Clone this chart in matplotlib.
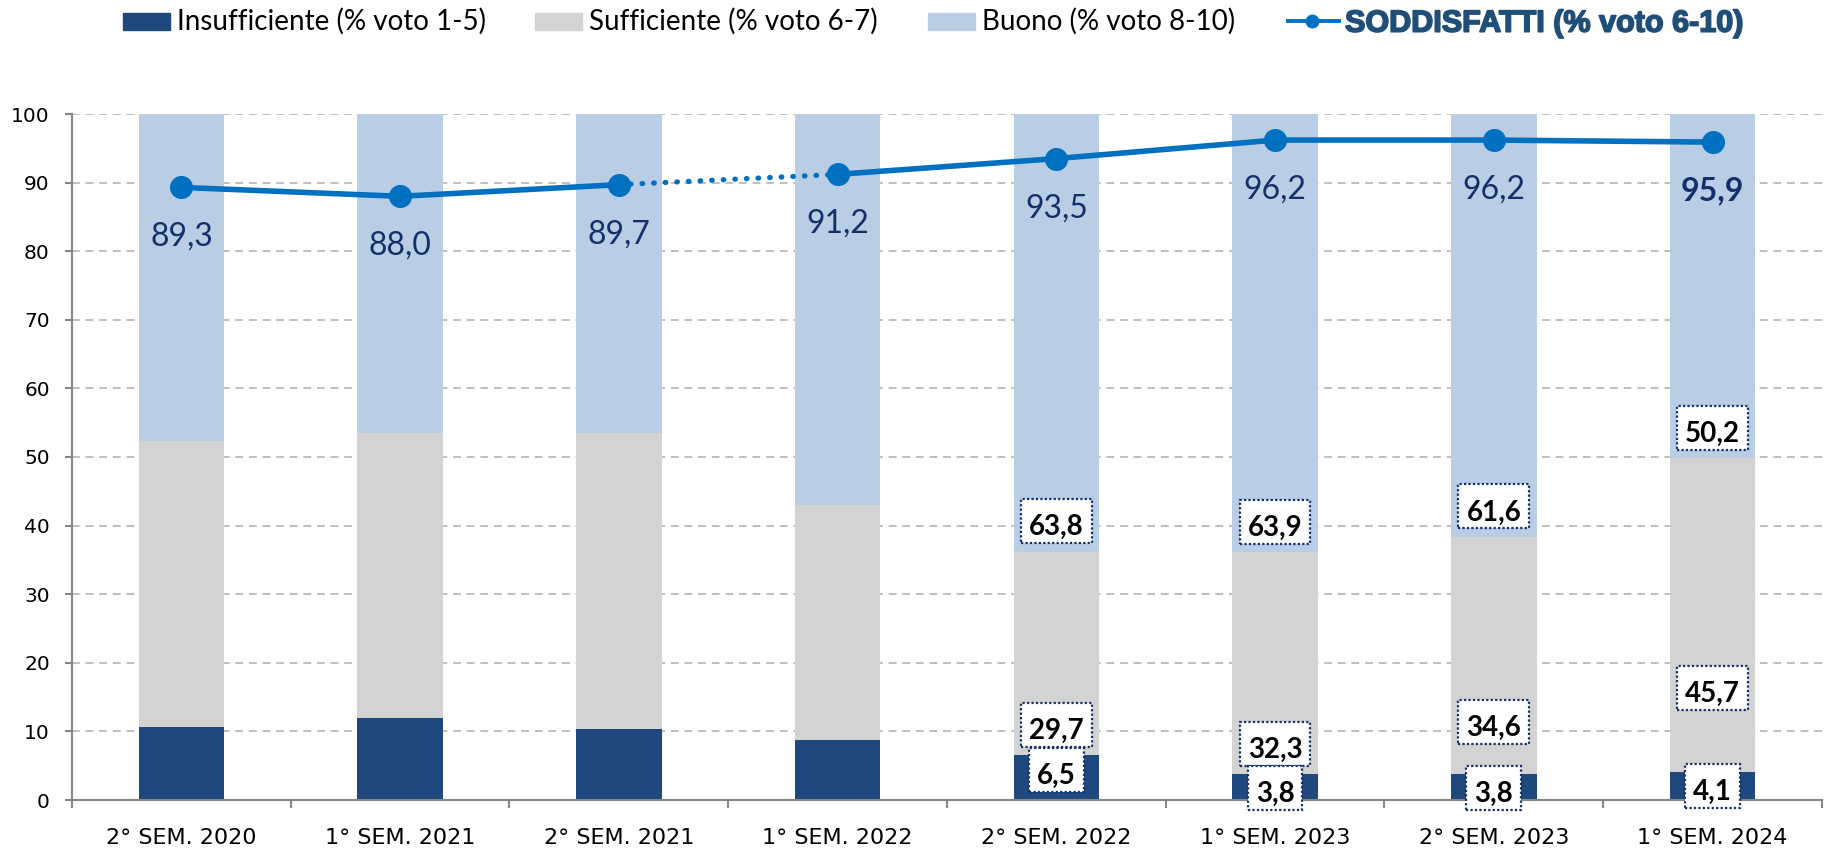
import matplotlib
matplotlib.use("Agg")
import matplotlib.pyplot as plt
from matplotlib.patches import Rectangle
from matplotlib.lines import Line2D
from matplotlib.transforms import ScaledTranslation
import matplotlib.patheffects as pe
import numpy as np

# dati (% di risposte per semestre)
periodi = ["2° SEM. 2020", "1° SEM. 2021", "2° SEM. 2021", "1° SEM. 2022",
           "2° SEM. 2022", "1° SEM. 2023", "2° SEM. 2023", "1° SEM. 2024"]
insufficiente = [10.7, 12.0, 10.3, 8.8, 6.5, 3.8, 3.8, 4.1]
sufficiente = [41.6, 41.5, 43.2, 34.2, 29.7, 32.3, 34.6, 45.7]
buono = [47.7, 46.5, 46.5, 57.0, 63.8, 63.9, 61.6, 50.2]
soddisfatti = [89.3, 88.0, 89.7, 91.2, 93.5, 96.2, 96.2, 95.9]

# etichette nei riquadri (solo ultimi semestri) e centro del riquadro
idx_box = [4, 5, 6, 7]
y_box_buono = [40.7, 40.5, 42.8, 54.2]
y_box_suff = [10.9, 8.2, 11.4, 16.3]
y_box_insuf = [4.4, 1.7, 1.7, 2.1]

C_INSUF = "#1F497D"
C_SUFF = "#D3D3D3"
C_BUONO = "#B9CDE5"
C_LINE = "#0070C0"
C_NAVY = "#14306A"

W, H = 1825, 851
PT = 72 / 100  # pixel -> punti


def fmt(v):
    return ("%.1f" % v).replace(".", ",")


fig = plt.figure(figsize=(W / 100, H / 100), dpi=100)
ax = fig.add_axes([72 / W, 51 / H, 1750 / W, 686 / H])

x = np.arange(len(periodi))
bw = 0.39
ax.bar(x, insufficiente, bw, color=C_INSUF, zorder=2)
ax.bar(x, sufficiente, bw, bottom=insufficiente, color=C_SUFF, zorder=2)
base_b = np.array(insufficiente) + np.array(sufficiente)
ax.bar(x, buono, bw, bottom=base_b, color=C_BUONO, zorder=2)

# linea soddisfatti, tratto punteggiato tra 2° sem 2021 e 1° sem 2022
ax.plot(x[:3], soddisfatti[:3], color=C_LINE, lw=4, zorder=4)
ax.plot(x[3:], soddisfatti[3:], color=C_LINE, lw=4, zorder=4)
ax.plot(x[2:4], soddisfatti[2:4], color=C_LINE, lw=3.8, ls=(0, (0.1, 2.1)),
        dash_capstyle="round", zorder=4)
ax.plot(x, soddisfatti, "o", color=C_LINE, ms=15.6, zorder=5)

for i, v in enumerate(soddisfatti):
    ax.annotate(fmt(v), (x[i], v), xytext=(0, -58.5 * PT), textcoords="offset points",
                ha="center", va="baseline", fontsize=23, family="Lato",
                fontweight="bold" if i == len(soddisfatti) - 1 else "normal",
                color=C_NAVY, zorder=6)

ax.set_xlim(-0.5, len(periodi) - 0.5)
ax.set_ylim(0, 100)
ax.set_yticks(range(0, 101, 10))
ax.set_xticks(x)
ax.set_xticklabels(periodi)
ax.set_xticks(np.arange(-0.5, len(periodi), 1), minor=True)
ax.tick_params(axis="x", which="major", length=0, pad=20, labelsize=16)
ax.tick_params(axis="x", which="minor", length=5.5, width=1.5, color="#868686")
ax.tick_params(axis="y", length=5, width=1.5, color="#868686", pad=11, labelsize=14.5)

ax.yaxis.grid(True, ls=(0, (4, 3)), color="#BFBFBF", lw=1.4)
ax.set_axisbelow(True)
for s in ("top", "right"):
    ax.spines[s].set_visible(False)
for s in ("left", "bottom"):
    ax.spines[s].set_color("#868686")
    ax.spines[s].set_linewidth(1.5)

# etichette in riquadro punteggiato
box_texts = []
for k, i in enumerate(idx_box):
    for val, yy in ((buono[i], y_box_buono[k]), (sufficiente[i], y_box_suff[k]),
                    (insufficiente[i], y_box_insuf[k])):
        t = ax.annotate(fmt(val), (x[i], yy), xytext=(0, -14 * PT),
                        textcoords="offset points", ha="center", va="baseline",
                        fontsize=20, family="Lato", fontweight="bold",
                        color="black", zorder=8, annotation_clip=False)
        box_texts.append((t, x[i], yy))

fig.canvas.draw()
renderer = fig.canvas.get_renderer()
for t, xx, yy in box_texts:
    bw_px = t.get_window_extent(renderer).width + 16
    ax.add_patch(Rectangle((-bw_px / 2, -22), bw_px, 44, fc="white", ec=C_NAVY,
                           lw=1.6, ls=(0, (1, 1)), zorder=7, clip_on=False,
                           transform=ScaledTranslation(xx, yy, ax.transData)))

# legenda in alto, disegnata a mano
leg_c = 1 - 21 / H
leg_items = [("Insufficiente (% voto 1-5)", C_INSUF, 123),
             ("Sufficiente (% voto 6-7)", C_SUFF, 535),
             ("Buono (% voto 8-10)", C_BUONO, 928)]
for lab, col, px in leg_items:
    fig.add_artist(Rectangle((px / W, leg_c - 8.5 / H), 47 / W, 17 / H,
                             color=col, transform=fig.transFigure))
    fig.text((px + 54) / W, 1 - 29.5 / H, lab, ha="left", va="baseline",
             fontsize=20, family="Lato", color="black")
fig.add_artist(Line2D([1288 / W, 1339 / W], [leg_c, leg_c], color=C_LINE, lw=2.8,
                      transform=fig.transFigure))
fig.add_artist(Line2D([1312 / W], [leg_c], marker="o", ms=9, color=C_LINE,
                      transform=fig.transFigure))
fig.text(1345 / W, 1 - 31.7 / H, "SODDISFATTI (% voto 6-10)", ha="left",
         va="baseline", fontsize=22, family="Liberation Sans", fontweight="bold",
         color="#1F4E79",
         path_effects=[pe.withStroke(linewidth=1.2, foreground="#1F4E79")])

fig.savefig("out.png", dpi=100)
